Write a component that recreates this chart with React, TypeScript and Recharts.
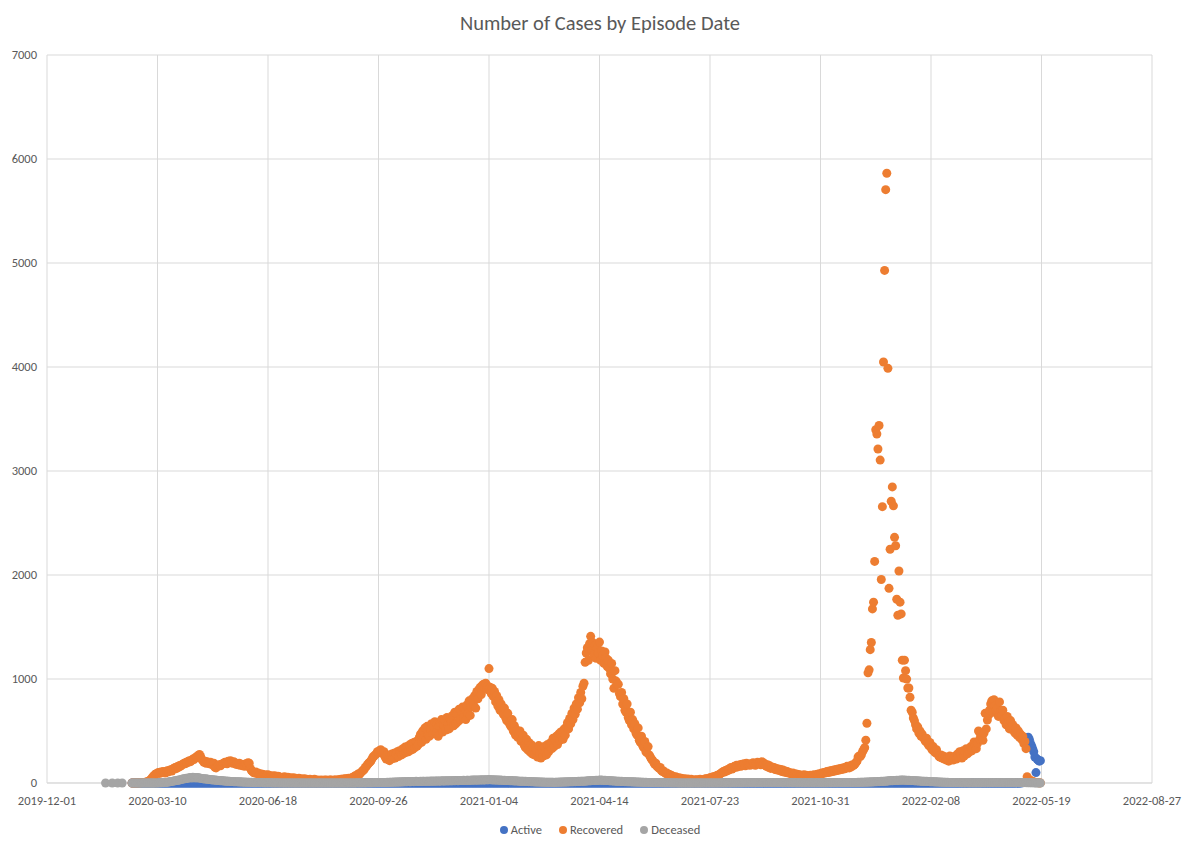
import React from 'react';
import { ScatterChart, Scatter, XAxis, YAxis, CartesianGrid } from 'recharts';

// Daily counts by episode date, one row per month (row i starts at monthStarts[i])
const monthStarts = [
  '2020-02-16', '2020-03-01', '2020-04-01', '2020-05-01', '2020-06-01', '2020-07-01',
  '2020-08-01', '2020-09-01', '2020-10-01', '2020-11-01', '2020-12-01',
  '2021-01-01', '2021-02-01', '2021-03-01', '2021-04-01', '2021-05-01', '2021-06-01',
  '2021-07-01', '2021-08-01', '2021-09-01', '2021-10-01', '2021-11-01', '2021-12-01',
  '2022-01-01', '2022-02-01', '2022-03-01', '2022-04-01', '2022-05-01',
];

const recovered = [
  [0, 0, 1, 0, 1, 2, 1, 3, 2, 4, 5, 6, 8, 10],
  [12, 18, 25, 35, 48, 60, 72, 85, 90, 95, 100, 92, 105, 98, 110, 104, 96, 112, 118, 108, 122, 128, 115, 135, 142, 150, 138, 158, 150, 168, 162],
  [175, 180, 190, 185, 200, 195, 210, 215, 205, 220, 230, 225, 240, 250, 245, 265, 275, 255, 230, 215, 200, 210, 190, 205, 195, 185, 200, 180, 175, 190],
  [150, 145, 160, 170, 175, 165, 180, 185, 190, 200, 195, 185, 210, 205, 215, 200, 190, 205, 195, 180, 185, 175, 190, 170, 180, 165, 175, 160, 185, 170, 195],
  [190, 140, 120, 110, 100, 95, 105, 90, 95, 85, 90, 80, 85, 75, 80, 70, 75, 80, 70, 65, 70, 60, 65, 70, 60, 55, 65, 60, 55, 50],
  [55, 50, 60, 45, 50, 55, 45, 50, 40, 45, 50, 40, 45, 35, 40, 45, 35, 40, 30, 35, 40, 30, 35, 30, 25, 35, 30, 25, 30, 35, 28],
  [25, 30, 20, 25, 30, 20, 25, 28, 22, 30, 25, 20, 28, 30, 25, 22, 30, 28, 25, 30, 32, 28, 35, 30, 38, 35, 40, 38, 42, 45, 40],
  [45, 50, 55, 60, 70, 65, 80, 90, 85, 100, 110, 120, 130, 150, 160, 175, 190, 200, 210, 230, 250, 260, 270, 280, 300, 290, 310, 320, 300, 280],
  [300, 250, 230, 270, 225, 215, 260, 280, 235, 285, 240, 275, 300, 255, 310, 290, 270, 330, 285, 345, 295, 350, 300, 365, 315, 380, 325, 390, 340, 400, 355],
  [370, 440, 470, 390, 500, 430, 530, 420, 545, 460, 450, 520, 570, 470, 540, 590, 480, 560, 450, 550, 580, 610, 490, 560, 600, 510, 630, 570, 520, 610],
  [590, 650, 550, 680, 570, 660, 590, 710, 610, 690, 730, 630, 720, 610, 750, 670, 790, 650, 730, 810, 750, 840, 720, 880, 810, 900, 920, 850, 940, 950, 920],
  [960, 900, 930, 1100, 920, 860, 910, 830, 880, 780, 840, 740, 800, 700, 760, 690, 660, 720, 630, 600, 670, 580, 560, 540, 610, 500, 550, 460, 510, 440, 470],
  [500, 400, 420, 460, 360, 340, 420, 320, 390, 300, 370, 280, 350, 270, 340, 310, 250, 360, 280, 240, 330, 260, 350, 290, 270, 370, 300, 360],
  [390, 330, 430, 350, 410, 450, 370, 470, 410, 490, 440, 420, 520, 460, 540, 580, 520, 620, 570, 670, 610, 720, 660, 760, 710, 820, 770, 870, 810, 930, 960],
  [1160, 1250, 1300, 1180, 1340, 1410, 1280, 1350, 1230, 1320, 1200, 1300, 1250, 1355, 1180, 1270, 1220, 1150, 1260, 1200, 1120, 1180, 1100, 1050, 1150, 1000, 910, 1080, 980, 950],
  [950, 860, 830, 870, 760, 810, 700, 680, 760, 630, 600, 680, 560, 610, 520, 570, 480, 460, 530, 410, 390, 450, 360, 340, 400, 300, 290, 350, 270, 250, 230],
  [220, 200, 180, 190, 160, 150, 140, 150, 120, 110, 115, 100, 90, 95, 80, 85, 70, 75, 65, 60, 55, 60, 50, 45, 50, 40, 45, 38, 35, 40],
  [35, 30, 38, 32, 28, 35, 30, 25, 30, 28, 32, 26, 30, 35, 28, 32, 30, 35, 40, 38, 42, 45, 50, 48, 55, 60, 58, 65, 70, 75, 80],
  [85, 95, 100, 110, 105, 120, 115, 130, 125, 140, 150, 135, 145, 160, 150, 170, 155, 165, 175, 160, 180, 170, 185, 165, 190, 175, 180, 170, 185, 175, 195],
  [180, 170, 190, 200, 185, 195, 175, 205, 180, 190, 170, 160, 175, 150, 165, 140, 155, 145, 150, 130, 140, 125, 135, 120, 130, 110, 125, 105, 115, 100],
  [110, 95, 100, 90, 85, 95, 80, 90, 75, 85, 70, 80, 75, 65, 70, 80, 60, 75, 65, 70, 60, 75, 70, 65, 80, 70, 75, 85, 80, 90, 85],
  [95, 90, 100, 95, 105, 110, 100, 115, 105, 120, 110, 125, 115, 130, 120, 135, 125, 140, 130, 145, 135, 150, 140, 160, 150, 145, 165, 155, 175, 170],
  [180, 195, 210, 250, 260, 255, 271, 300, 320, 340, 412, 574, 1059, 1088, 1282, 1351, 1674, 1739, 2131, 3397, 3356, 3211, 3437, 3105, 1957, 2657, 4048, 4929, 5705, 5863, 3987],
  [1872, 2248, 2709, 2847, 2665, 2362, 2281, 1767, 1613, 2038, 1739, 1626, 1181, 1010, 1181, 1080, 999, 913, 913, 825, 700, 680, 625, 600, 560, 520, 540, 480, 500, 450, 470],
  [440, 420, 400, 430, 380, 360, 390, 340, 320, 350, 300, 290, 320, 280, 260, 250, 270, 240, 260, 230, 250, 220, 240, 210, 260, 230, 250, 220],
  [240, 260, 230, 280, 250, 300, 270, 240, 310, 260, 290, 330, 280, 320, 300, 350, 310, 340, 395, 360, 330, 380, 500, 420, 460, 440, 410, 480, 670, 520, 605],
  [650, 700, 760, 790, 680, 800, 740, 700, 720, 640, 780, 690, 650, 700, 600, 620, 560, 640, 580, 520, 600, 540, 560, 500, 480, 530, 460, 500, 440, 470],
  [420, 450, 380, 400, 330, 60, 40, 30, 25, 20, 15, 10, 8, 5, 4, 3, 2, 1],
];

const deceased = [
  [0, 0, 0, 0, 0, 0, 0, 0, 0, 0, 0, 0, 0, 0],
  [0, 0, 0, 0, 0, 0, 0, 0, 1, 1, 1, 2, 2, 3, 3, 4, 5, 6, 8, 10, 12, 14, 15, 18, 20, 22, 25, 24, 28, 30, 32],
  [35, 38, 40, 42, 45, 44, 48, 50, 52, 48, 55, 50, 53, 48, 52, 50, 47, 45, 44, 42, 40, 38, 41, 36, 35, 33, 34, 30, 32, 29],
  [28, 26, 27, 24, 25, 22, 23, 20, 21, 18, 19, 17, 16, 18, 15, 14, 15, 13, 12, 13, 11, 12, 10, 11, 9, 10, 8, 9, 8, 7, 8],
  [7, 6, 7, 5, 6, 5, 4, 5, 4, 4, 3, 4, 3, 3, 2, 3, 2, 2, 3, 2, 2, 1, 2, 1, 1, 2, 1, 1, 1, 1],
  [1, 1, 0, 1, 1, 0, 1, 0, 1, 1, 0, 1, 0, 0, 1, 0, 1, 0, 0, 1, 0, 0, 1, 0, 0, 1, 0, 0, 1, 0, 0],
  [0, 1, 0, 0, 1, 0, 0, 0, 1, 0, 0, 0, 1, 0, 0, 0, 0, 1, 0, 0, 0, 1, 0, 0, 0, 1, 0, 0, 1, 0, 1],
  [0, 1, 1, 0, 1, 1, 2, 1, 1, 2, 1, 2, 2, 1, 2, 3, 2, 3, 2, 3, 3, 4, 3, 4, 5, 4, 5, 6, 5, 6],
  [5, 6, 5, 7, 6, 7, 8, 7, 8, 9, 8, 9, 10, 9, 10, 11, 10, 12, 11, 12, 13, 12, 14, 13, 12, 14, 15, 13, 14, 16, 15],
  [15, 14, 16, 15, 17, 16, 15, 18, 17, 16, 18, 17, 19, 18, 17, 19, 18, 20, 19, 18, 20, 19, 21, 20, 19, 22, 21, 20, 22, 21],
  [22, 21, 23, 22, 24, 23, 22, 24, 25, 23, 24, 26, 25, 24, 26, 27, 25, 27, 26, 28, 27, 29, 28, 27, 29, 30, 28, 30, 31, 29, 30],
  [31, 32, 30, 33, 31, 32, 30, 31, 29, 30, 28, 29, 27, 28, 26, 27, 25, 26, 24, 25, 23, 24, 22, 23, 21, 22, 20, 21, 19, 20, 18],
  [18, 17, 16, 17, 15, 16, 14, 15, 13, 14, 12, 13, 11, 12, 10, 11, 10, 9, 10, 9, 8, 9, 8, 7, 8, 7, 8, 7],
  [7, 8, 7, 6, 7, 8, 7, 8, 9, 8, 9, 10, 9, 10, 11, 10, 12, 11, 12, 13, 12, 14, 13, 15, 14, 16, 15, 17, 16, 18, 17],
  [18, 19, 20, 21, 22, 21, 23, 24, 25, 24, 26, 25, 27, 26, 28, 27, 26, 25, 26, 24, 23, 24, 22, 21, 22, 20, 19, 20, 18, 17],
  [16, 17, 15, 16, 14, 15, 13, 14, 12, 13, 12, 11, 12, 10, 11, 10, 9, 10, 8, 9, 8, 7, 8, 7, 6, 7, 6, 5, 6, 5, 5],
  [5, 4, 5, 4, 4, 3, 4, 3, 3, 3, 2, 3, 2, 2, 3, 2, 2, 1, 2, 1, 1, 2, 1, 1, 1, 0, 1, 1, 0, 1],
  [1, 0, 1, 0, 1, 0, 0, 1, 0, 1, 0, 1, 0, 0, 1, 0, 1, 0, 1, 1, 0, 1, 1, 0, 1, 1, 1, 0, 1, 1, 1],
  [1, 1, 2, 1, 1, 2, 1, 2, 2, 1, 2, 2, 3, 2, 2, 3, 2, 3, 3, 2, 3, 3, 4, 3, 3, 4, 3, 4, 4, 3, 4],
  [4, 3, 4, 4, 5, 4, 4, 5, 4, 5, 5, 4, 5, 5, 4, 5, 4, 5, 4, 4, 5, 4, 4, 5, 4, 4, 3, 4, 4, 3],
  [4, 3, 3, 4, 3, 3, 4, 3, 3, 2, 3, 3, 2, 3, 3, 2, 3, 2, 3, 2, 2, 3, 2, 3, 2, 2, 3, 2, 3, 3, 2],
  [3, 2, 3, 3, 2, 3, 3, 4, 3, 3, 4, 3, 4, 4, 3, 4, 4, 5, 4, 4, 5, 4, 5, 5, 4, 5, 6, 5, 5, 6],
  [6, 5, 6, 7, 6, 7, 7, 8, 7, 8, 9, 8, 9, 10, 9, 11, 10, 12, 11, 13, 12, 14, 13, 15, 16, 15, 17, 18, 17, 19, 20],
  [21, 22, 23, 22, 24, 25, 24, 26, 25, 27, 26, 28, 27, 28, 27, 26, 27, 25, 26, 24, 25, 23, 24, 22, 21, 22, 20, 19, 20, 18, 17],
  [17, 16, 15, 16, 14, 15, 13, 12, 13, 11, 12, 10, 11, 9, 10, 8, 9, 8, 7, 8, 7, 6, 7, 6, 5, 6, 5, 5],
  [5, 4, 5, 4, 4, 3, 4, 3, 4, 3, 3, 4, 3, 3, 2, 3, 3, 2, 3, 3, 2, 3, 3, 2, 3, 3, 4, 3, 3, 4, 3],
  [4, 3, 4, 4, 5, 4, 5, 5, 4, 5, 6, 5, 5, 6, 5, 6, 5, 6, 5, 5, 6, 5, 5, 4, 5, 4, 5, 4, 4, 5],
  [4, 4, 3, 4, 3, 3, 3, 2, 3, 2, 2, 2, 1, 1, 1, 1, 0, 0],
];

const active = [
  [0, 0, 0, 0, 0, 0, 0, 0, 0, 0, 0, 0, 0, 0],
  [0, 0, 0, 0, 0, 0, 0, 0, 0, 0, 0, 0, 0, 0, 0, 0, 0, 0, 0, 0, 0, 0, 0, 0, 0, 0, 0, 0, 0, 0, 0],
  [0, 0, 0, 0, 0, 0, 0, 0, 0, 0, 0, 0, 0, 0, 0, 0, 0, 0, 0, 0, 0, 0, 0, 0, 0, 0, 0, 0, 0, 0],
  [0, 0, 0, 0, 0, 0, 0, 0, 0, 0, 0, 0, 0, 0, 0, 0, 0, 0, 0, 0, 0, 0, 0, 0, 0, 0, 0, 0, 0, 0, 0],
  [0, 0, 0, 0, 0, 0, 0, 0, 0, 0, 0, 0, 0, 0, 0, 0, 0, 0, 0, 0, 0, 0, 0, 0, 0, 0, 0, 0, 0, 0],
  [0, 0, 0, 0, 0, 0, 0, 0, 0, 0, 0, 0, 0, 0, 0, 0, 0, 0, 0, 0, 0, 0, 0, 0, 0, 0, 0, 0, 0, 0, 0],
  [0, 0, 0, 0, 0, 0, 0, 0, 0, 0, 0, 0, 0, 0, 0, 0, 0, 0, 0, 0, 0, 0, 0, 0, 0, 0, 0, 0, 0, 0, 0],
  [0, 0, 0, 0, 0, 0, 0, 0, 0, 0, 0, 0, 0, 0, 0, 0, 0, 0, 0, 0, 0, 0, 0, 0, 0, 0, 0, 0, 0, 0],
  [0, 0, 0, 0, 0, 0, 0, 0, 0, 0, 0, 0, 0, 0, 0, 0, 0, 0, 0, 0, 0, 0, 0, 0, 0, 0, 0, 0, 0, 0, 0],
  [0, 0, 0, 0, 0, 0, 0, 0, 0, 0, 0, 0, 0, 0, 0, 0, 0, 0, 0, 0, 0, 0, 0, 0, 0, 0, 0, 0, 0, 0],
  [0, 0, 0, 0, 0, 0, 0, 0, 0, 0, 0, 0, 0, 0, 0, 0, 0, 0, 0, 0, 0, 0, 0, 0, 0, 0, 0, 0, 0, 0, 0],
  [0, 0, 0, 0, 0, 0, 0, 0, 0, 0, 0, 0, 0, 0, 0, 0, 0, 0, 0, 0, 0, 0, 0, 0, 0, 0, 0, 0, 0, 0, 0],
  [0, 0, 0, 0, 0, 0, 0, 0, 0, 0, 0, 0, 0, 0, 0, 0, 0, 0, 0, 0, 0, 0, 0, 0, 0, 0, 0, 0],
  [0, 0, 0, 0, 0, 0, 0, 0, 0, 0, 0, 0, 0, 0, 0, 0, 0, 0, 0, 0, 0, 0, 0, 0, 0, 0, 0, 0, 0, 0, 0],
  [0, 0, 0, 0, 0, 0, 0, 0, 0, 0, 0, 0, 0, 0, 0, 0, 0, 0, 0, 0, 0, 0, 0, 0, 0, 0, 0, 0, 0, 0],
  [0, 0, 0, 0, 0, 0, 0, 0, 0, 0, 0, 0, 0, 0, 0, 0, 0, 0, 0, 0, 0, 0, 0, 0, 0, 0, 0, 0, 0, 0, 0],
  [0, 0, 0, 0, 0, 0, 0, 0, 0, 0, 0, 0, 0, 0, 0, 0, 0, 0, 0, 0, 0, 0, 0, 0, 0, 0, 0, 0, 0, 0],
  [0, 0, 0, 0, 0, 0, 0, 0, 0, 0, 0, 0, 0, 0, 0, 0, 0, 0, 0, 0, 0, 0, 0, 0, 0, 0, 0, 0, 0, 0, 0],
  [0, 0, 0, 0, 0, 0, 0, 0, 0, 0, 0, 0, 0, 0, 0, 0, 0, 0, 0, 0, 0, 0, 0, 0, 0, 0, 0, 0, 0, 0, 0],
  [0, 0, 0, 0, 0, 0, 0, 0, 0, 0, 0, 0, 0, 0, 0, 0, 0, 0, 0, 0, 0, 0, 0, 0, 0, 0, 0, 0, 0, 0],
  [0, 0, 0, 0, 0, 0, 0, 0, 0, 0, 0, 0, 0, 0, 0, 0, 0, 0, 0, 0, 0, 0, 0, 0, 0, 0, 0, 0, 0, 0, 0],
  [0, 0, 0, 0, 0, 0, 0, 0, 0, 0, 0, 0, 0, 0, 0, 0, 0, 0, 0, 0, 0, 0, 0, 0, 0, 0, 0, 0, 0, 0],
  [0, 0, 0, 0, 0, 0, 0, 0, 0, 0, 0, 0, 0, 0, 0, 0, 0, 0, 0, 0, 0, 0, 0, 0, 0, 0, 0, 0, 0, 0, 0],
  [0, 0, 0, 0, 0, 0, 0, 0, 0, 0, 0, 0, 0, 0, 0, 0, 0, 0, 0, 0, 0, 0, 0, 0, 0, 0, 0, 0, 0, 0, 0],
  [0, 0, 0, 0, 0, 0, 0, 0, 0, 0, 0, 0, 0, 0, 0, 0, 0, 0, 0, 0, 0, 0, 0, 0, 0, 0, 0, 0],
  [0, 0, 0, 0, 0, 0, 0, 0, 0, 0, 0, 0, 0, 0, 0, 0, 0, 0, 0, 0, 0, 0, 0, 0, 0, 0, 0, 0, 0, 0, 0],
  [0, 0, 0, 0, 0, 0, 0, 0, 0, 0, 0, 0, 0, 0, 0, 0, 0, 0, 0, 0, 0, 0, 0, 0, 0, 0, 0, 0, 0, 0],
  [2, 3, 5, 8, 12, 400, 440, 420, 380, 360, 330, 300, 250, 100, 230, 220, 210, 215],
];

// a few sporadic early episode dates before daily reporting starts
const earlyDates = ['2020-01-23', '2020-01-29', '2020-02-03', '2020-02-07'];
const earlyDeceased = [0, 0, 0, 0];

const xTicks = [
  '2019-12-01', '2020-03-10', '2020-06-18', '2020-09-26', '2021-01-04', '2021-04-14',
  '2021-07-23', '2021-10-31', '2022-02-08', '2022-05-19', '2022-08-27',
];
const yTicks = [0, 1000, 2000, 3000, 4000, 5000, 6000, 7000];

const DAY = 86400000;
const toDay = (s: string) => {
  const [y, m, d] = s.split('-').map(Number);
  return Date.UTC(y, m - 1, d) / DAY;
};
const fmtDay = (v: number) => new Date(v * DAY).toISOString().slice(0, 10);

const build = (rows: number[][]) =>
  rows.flatMap((row, m) => row.map((y, i) => ({ x: toDay(monthStarts[m]) + i, y })));

const activeData = build(active);
const recoveredData = build(recovered);
const deceasedData = [
  ...earlyDates.map((d, i) => ({ x: toDay(d), y: earlyDeceased[i] })),
  ...build(deceased),
];

const FONT = 'Carlito, Lato, "Open Sans", sans-serif';
const TEXT = '#595959';

const Dot = (props: any) => <circle cx={props.cx} cy={props.cy} r={4.5} fill={props.fill} />;

const legendItems = [
  { name: 'Active', color: '#4472c4' },
  { name: 'Recovered', color: '#ed7d31' },
  { name: 'Deceased', color: '#a5a5a5' },
];

export default function App() {
  const tick = { fontSize: 12.5, fill: TEXT, fontFamily: FONT };
  return (
    <div style={{ position: 'relative', width: 1200, height: 844, background: '#fff', fontFamily: FONT }}>
      <style>{'body{margin:0}'}</style>
      <div
        style={{
          position: 'absolute', top: 11, left: 0, width: 1200, textAlign: 'center',
          fontSize: 20.5, lineHeight: '24px', color: TEXT,
        }}
      >
        Number of Cases by Episode Date
      </div>
      <ScatterChart width={1200} height={844} margin={{ top: 55, right: 48, bottom: 0, left: 0 }}>
        <CartesianGrid stroke="#d9d9d9" />
        <XAxis
          type="number"
          dataKey="x"
          domain={[toDay(xTicks[0]), toDay(xTicks[xTicks.length - 1])]}
          ticks={xTicks.map(toDay)}
          tickFormatter={fmtDay}
          interval={0}
          height={61}
          tickLine={false}
          axisLine={{ stroke: '#d9d9d9' }}
          tickMargin={7}
          tick={tick}
          allowDataOverflow
        />
        <YAxis
          type="number"
          dataKey="y"
          domain={[0, 7000]}
          ticks={yTicks}
          interval={0}
          width={47}
          tickLine={false}
          axisLine={false}
          tickMargin={4}
          tick={tick}
        />
        <Scatter name="Active" data={activeData} fill="#4472c4" shape={Dot} isAnimationActive={false} />
        <Scatter name="Recovered" data={recoveredData} fill="#ed7d31" shape={Dot} isAnimationActive={false} />
        <Scatter name="Deceased" data={deceasedData} fill="#a5a5a5" shape={Dot} isAnimationActive={false} />
      </ScatterChart>
      <div
        style={{
          position: 'absolute', top: 822, left: 0, width: 1200, display: 'flex',
          justifyContent: 'center', gap: 17, fontSize: 12.5, color: TEXT, lineHeight: '16px',
        }}
      >
        {legendItems.map((it) => (
          <div key={it.name} style={{ display: 'flex', alignItems: 'center' }}>
            <span
              style={{ width: 8, height: 8, borderRadius: 4, background: it.color, marginRight: 3, display: 'inline-block' }}
            />
            {it.name}
          </div>
        ))}
      </div>
    </div>
  );
}
